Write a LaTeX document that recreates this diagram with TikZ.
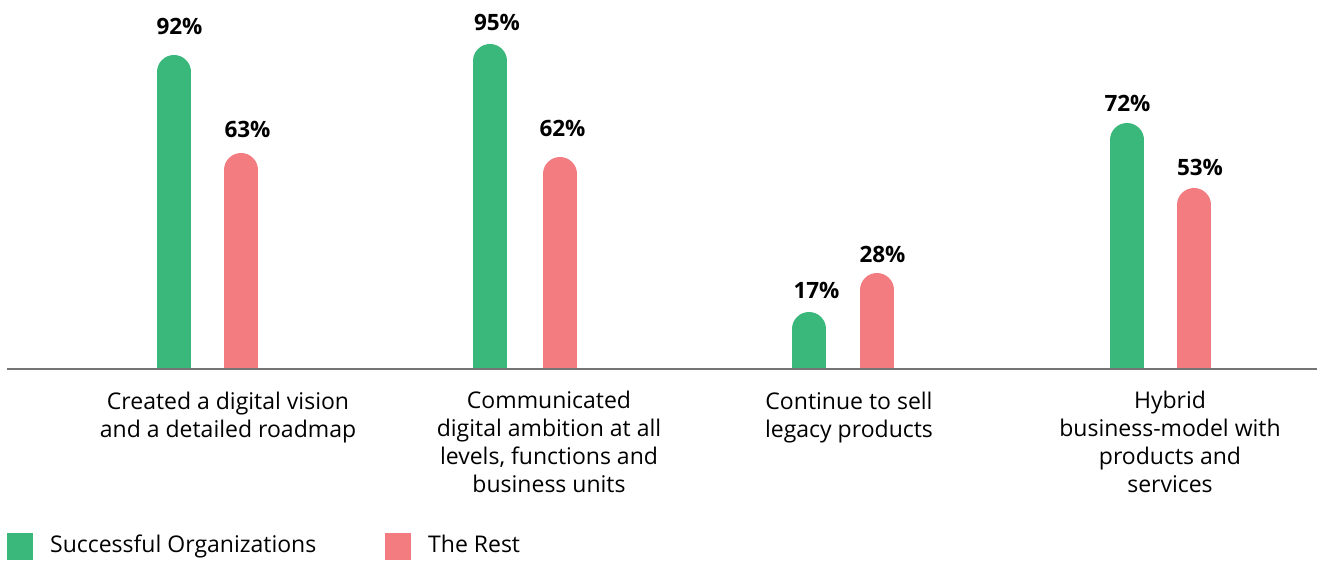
\documentclass[tikz,border=0pt]{standalone}
\usepackage{fontspec}
\setmainfont{Open Sans}
\definecolor{cgreen}{HTML}{3AB77A}
\definecolor{cred}{HTML}{F37C81}
\definecolor{axisgray}{HTML}{757575}
\newcommand\chartbar[4]{% x-left, top, color, name
  \fill[#3] (#1,369) rectangle (#1+34,#2+17);
  \fill[#3] (#1+17,#2+17) circle (17pt);
}
\begin{document}
\begin{tikzpicture}[x=1pt,y=-1pt,
  pct/.style={font=\fontsize{22.5}{26}\selectfont\bfseries, inner sep=0pt, anchor=base},
  cat/.style={font=\fontsize{23}{28}\selectfont, inner sep=0pt, align=center, anchor=base},
  leg/.style={font=\fontsize{23}{26}\selectfont, inner sep=0pt, anchor=base west}]
\useasboundingbox (0,0) rectangle (1317,561);
% bars
\chartbar{157}{55}{cgreen}{g1}
\chartbar{224}{153}{cred}{r1}
\chartbar{473}{44}{cgreen}{g2}
\chartbar{543}{157}{cred}{r2}
\chartbar{792}{312}{cgreen}{g3}
\chartbar{860}{273}{cred}{r3}
\chartbar{1110}{123}{cgreen}{g4}
\chartbar{1177}{188}{cred}{r4}
% axis
\coordinate (axl) at (7,369);
\coordinate (axr) at (1317,369);
\draw[axisgray, line width=1.6pt] (axl) -- (axr);
% percentages
\node[pct] (p1) at (179.5,35) {92\%};
\node[pct] (p2) at (247.5,138) {63\%};
\node[pct] (p3) at (497,31) {95\%};
\node[pct] (p4) at (562.5,137) {62\%};
\node[pct] (p5) at (816.5,299) {17\%};
\node[pct] (p6) at (882.5,263) {28\%};
\node[pct] (p7) at (1127.5,112) {72\%};
\node[pct] (p8) at (1200,176) {53\%};
% categories (anchor = baseline of last line)
\node[cat] (c1) at (228,437) {Created a digital vision\\and a detailed roadmap};
\node[cat] (c2) at (549,492) {Communicated\\digital ambition at all\\levels, functions and\\business units};
\node[cat] (c3) at (849,437) {Continue to sell\\legacy products};
\node[cat] (c4) at (1170,492) {Hybrid\\business-model with\\products and\\services};
% legend
\fill[cgreen] (7,533) rectangle (33,560);
\node[leg] (l1) at (50,552) {Successful Organizations};
\fill[cred] (385,533) rectangle (411,560);
\node[leg] (l2) at (428,552) {The Rest};
\end{tikzpicture}
\end{document}
